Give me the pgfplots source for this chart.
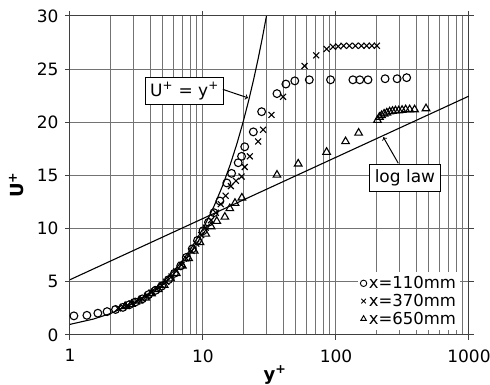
\documentclass[border=0pt]{standalone}
\usepackage{fontspec}
\setmainfont{DejaVu Sans}
\usepackage{pgfplots}
\pgfplotsset{compat=1.18}
\begin{document}
\begin{tikzpicture}
\useasboundingbox (-70pt,-50pt) rectangle (420pt,335pt);
\begin{axis}[
  scale only axis, width=399pt, height=319pt,
  xmode=log, xmin=1, xmax=1000, ymin=0, ymax=30,
  xtick={1,10,100,1000}, xticklabels={1,10,100,1000},
  ytick={0,5,10,15,20,25,30},
  /pgf/number format/assume math mode=true,
  grid=both,
  major grid style={black!55, line width=1pt},
  minor grid style={black!55, line width=1pt},
  axis line style={black!75, line width=1pt},
  tick align=outside, major tick length=5pt, minor tick length=0pt,
  tick style={black!75, line width=1pt},
  ticklabel style={font=\fontsize{17}{20}\selectfont},
  yticklabel style={xshift=-3pt},
  xticklabel style={yshift=-6pt},
  xlabel={\textbf{y\textsuperscript{+}}},
  ylabel={\textbf{U\textsuperscript{+}}},
  label style={font=\fontsize{18}{20}\selectfont},
  xlabel style={at={(axis description cs:0.514,-0.125)}, anchor=center},
  ylabel style={at={(axis description cs:-0.135,0.47)}, anchor=center},
  legend style={draw=none, fill=white, at={(0.978,0.016)}, anchor=south east,
    font=\fontsize{16.5}{19}\selectfont, row sep=0pt, inner sep=2pt},
  legend cell align=left,
  legend image code/.code={\draw[#1, mark size=3.2pt, line width=0.9pt] plot coordinates {(0.25cm,0cm)};},
]
\addplot[only marks, mark=o, mark size=3.9pt, line width=1.1pt] coordinates {
(1.07,1.8) (1.34,1.85) (1.62,2.05) (1.9,2.2) (2.2,2.4) (2.5,2.6) (2.8,2.85) (3.1,3.1)
(3.5,3.4) (3.9,3.8) (4.4,4.2) (4.9,4.6) (5.5,5.2) (6.1,5.8) (6.8,6.5) (7.5,7.3)
(8.3,8.1) (9.1,8.9) (10,9.8) (11,10.6) (12.1,11.5) (13.4,12.6) (15.1,14.3) (16.4,15.2)
(18.4,16.2) (19.5,16.8) (20.6,17.7) (23.9,19.1) (27.6,21.0) (36,22.7) (42,23.6)
(49,23.9) (63,24.0) (91,24.0) (134,24.0) (151,24.0) (174,24.0) (234,24.1) (288,24.1) (340,24.2)
};
\addlegendentry{x=110mm}
\addplot[only marks, mark=x, mark size=4.2pt, line width=1.1pt] coordinates {
(2.3,2.5) (2.5,2.65) (2.7,2.8) (2.9,2.95) (3.2,3.15) (3.5,3.4) (3.8,3.7) (4.1,4.0)
(4.5,4.3) (4.9,4.65) (5.3,5.0) (5.8,5.5) (6.3,6.0) (6.9,6.6) (7.5,7.2) (8.2,7.9)
(8.9,8.6) (9.7,9.4) (10.5,10.1) (11.5,10.8) (12.5,11.5) (13.6,12.3) (14.8,13.1)
(16.2,14.0) (17.7,14.5) (19.5,14.9) (20.6,15.8) (22.5,16.8) (26,18.2) (28.3,19.3)
(32.7,20.7) (40,22.4) (58,25.3) (71,26.3) (85,26.9) (95,27.1) (104,27.15) (114,27.2)
(126,27.2) (140,27.2) (155,27.2) (170,27.2) (186,27.2) (203,27.2)
};
\addlegendentry{x=370mm}
\addplot[only marks, mark=triangle, mark size=4.4pt, line width=1.1pt] coordinates {
(2.6,2.7) (2.9,2.9) (3.3,3.2) (3.7,3.5) (4.1,3.9) (4.6,4.3) (5.1,4.7) (5.7,5.3)
(6.3,5.8) (7.0,6.5) (7.8,7.2) (8.6,7.9) (9.5,8.7) (10.5,9.5) (11.5,10.2) (12.7,10.7)
(14.6,11.1) (15.9,11.9) (17.4,12.4) (19.6,12.9) (36,15.05) (52,16.1) (85,17.2)
(118,18.2) (148,19.0) (205,20.2) (212,20.5) (220,20.65) (230,20.8) (241,20.9)
(253,21.0) (266,21.05) (280,21.1) (296,21.1) (314,21.15) (334,21.2) (358,21.2)
(390,21.2) (475,21.3)
};
\addlegendentry{x=650mm}
\addplot[black, line width=1.1pt, forget plot] coordinates {
(1,1) (1.5,1.5) (2,2) (3,3) (4,4) (5,5) (6,6) (7,7) (8,8) (10,10) (12,12) (14,14)
(16,16) (18,18) (20,20) (22,22) (24,24) (26,26) (28,28) (30,30)
};
\addplot[black, line width=1.1pt, forget plot] coordinates {(1,5.2) (1000,22.47)};
\node[draw=black, fill=white, line width=1.2pt, inner xsep=5pt, inner ysep=5pt, font=\fontsize{17}{20}\selectfont]
  at (axis cs:7.26,22.95) {U\textsuperscript{+} = y\textsuperscript{+}};
\draw[->, line width=1pt] (axis cs:14.1,23.1) -- (axis cs:21.8,22.3);
\node[draw=black, fill=white, line width=1.2pt, inner xsep=5pt, inner ysep=5pt, font=\fontsize{17}{20}\selectfont]
  at (axis cs:330,14.77) {log law};
\draw[->, line width=1pt] (axis cs:294,16.15) -- (axis cs:227,18.6);
\end{axis}
\end{tikzpicture}
\end{document}
